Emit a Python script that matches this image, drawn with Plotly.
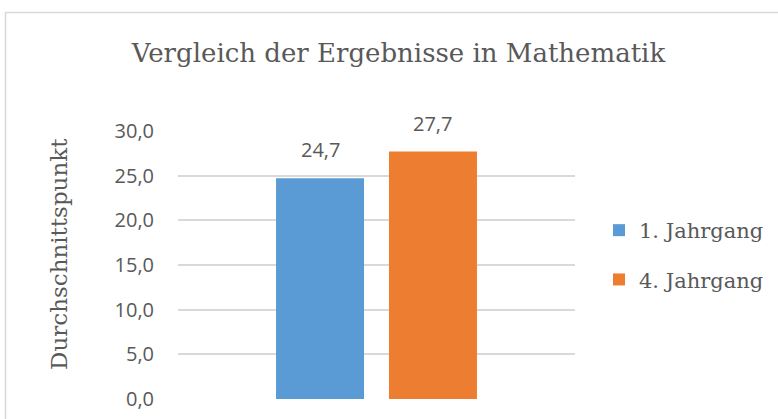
import plotly.graph_objects as go

categories = ["Mathematik"]
series_names = ["1. Jahrgang", "4. Jahrgang"]
values_j1 = [24.7]
values_j4 = [27.7]
colors = ["#5B9BD5", "#ED7D31"]
tick_vals = [0, 5, 10, 15, 20, 25, 30]

W, H = 778, 419
L, R, T, B = 178, 203, 131, 20
pw, ph = W - L - R, H - T - B
BARGAP = 0.431
BARGROUPGAP = 0.221

serif = "DejaVu Serif, Liberation Serif, serif"
sans = "Open Sans, Noto Sans, Liberation Sans, sans-serif"
gray = "#595959"

def px_x(p):
    return (p - L) / pw

def px_y(p):
    return (H - B - p) / ph

fig = go.Figure()
all_vals = [values_j1, values_j4]
annotations = []
n = len(series_names)
slot = (1 - BARGAP) / n
for i, (name, vals) in enumerate(zip(series_names, all_vals)):
    fig.add_trace(go.Bar(
        x=categories, y=vals, name=name,
        marker=dict(color=colors[i], line=dict(width=0)),
        legendgroup=name,
        hoverinfo="y",
    ))
    for ci, v in enumerate(vals):
        annotations.append(dict(
            x=ci - (1 - BARGAP) / 2 + slot * (i + 0.5), y=v,
            xref="x", yref="y",
            text=f"{v:.1f}".replace(".", ","),
            showarrow=False, xanchor="center", yanchor="bottom", yshift=13,
            font=dict(family=sans, size=20, color=gray),
        ))

annotations.append(dict(
    text="Durchschnittspunkt", textangle=-90,
    xref="paper", yref="paper",
    x=px_x(59), y=px_y(254), xanchor="center", yanchor="middle",
    showarrow=False,
    font=dict(family=serif, size=23, color=gray),
))

fig.update_layout(
    width=W, height=H, autosize=False,
    margin=dict(l=L, r=R, t=T, b=B, autoexpand=False),
    paper_bgcolor="white", plot_bgcolor="white",
    separators=",.",
    barmode="group", bargap=BARGAP, bargroupgap=BARGROUPGAP,
    showlegend=True,
    legend=dict(
        xref="container", yref="container",
        x=599 / W, y=1 - 210 / H, xanchor="left", yanchor="top",
        font=dict(family=serif, size=21, color=gray),
        tracegroupgap=19, traceorder="grouped",
        itemclick=False, itemdoubleclick=False,
    ),
    title=dict(
        text="Vergleich der Ergebnisse in Mathematik",
        x=px_x(398.5), xanchor="center", xref="paper",
        y=1 - 53 / H, yanchor="middle",
        font=dict(family=serif, size=26, color=gray),
    ),
    xaxis=dict(showticklabels=False, showline=False, showgrid=False,
               zeroline=False, fixedrange=True, automargin=False),
    yaxis=dict(
        range=[0, 30], tickvals=tick_vals, tickformat=".1f",
        showgrid=True, gridcolor="#D9D9D9", gridwidth=1.5,
        zeroline=False, showline=False, fixedrange=True, automargin=False,
        tickfont=dict(family=sans, size=20, color=gray),
        ticklabelstandoff=23,
    ),
    annotations=annotations,
    shapes=[dict(
        type="rect", xref="paper", yref="paper",
        x0=px_x(5.5), x1=px_x(900), y0=px_y(500), y1=px_y(12.5),
        line=dict(color="#D9D9D9", width=1.5), fillcolor="rgba(0,0,0,0)",
        layer="below",
    )],
)

fig.write_html("out.html", config={"displayModeBar": False},
               post_script="document.body.style.margin='0';")
